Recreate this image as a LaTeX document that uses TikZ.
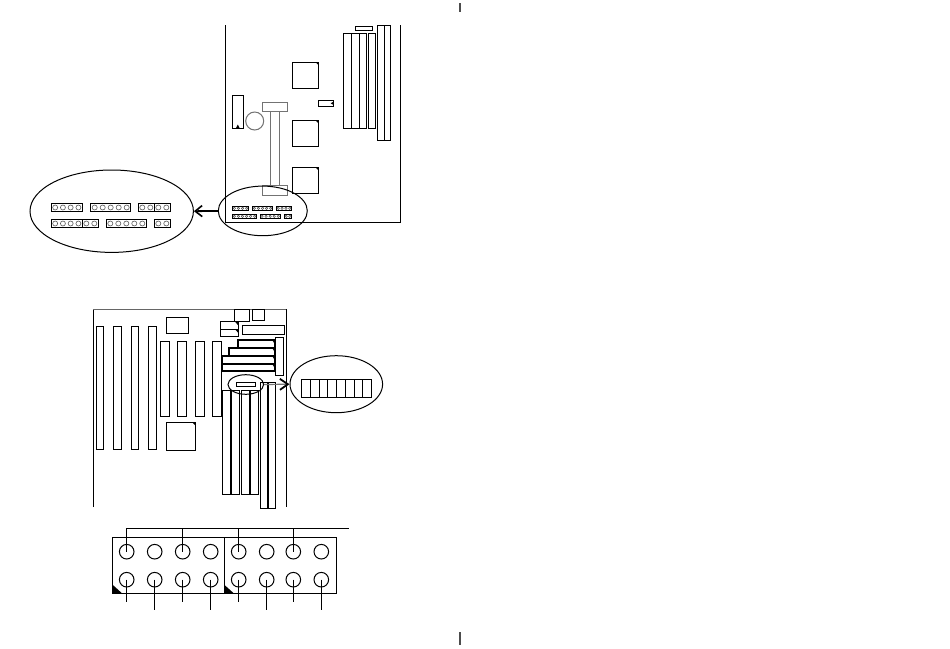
\documentclass[tikz,border=0pt]{standalone}
\usetikzlibrary{positioning, calc, arrows.meta, shapes.geometric}
\tikzset{part/.style={draw=black, line width=1pt}}
\tikzset{thickpart/.style={draw=black, line width=2.1pt}}
\tikzset{graypart/.style={draw=black!55, line width=1pt}}
\tikzset{lens/.style={draw=black, ellipse, line width=1pt, inner sep=0pt}}
\tikzset{hdrpin/.style={draw=black, circle, line width=1pt, inner sep=0pt, minimum size=14.6pt}}
\tikzset{wire/.style={draw=black, line width=1pt}}
\tikzset{grab/.style={line width=1.8pt, -{Straight Barb[length=7pt,width=11pt,line width=1.6pt]}}}
\begin{document}
\begin{tikzpicture}[x=1pt, y=-1pt]
  \useasboundingbox (0,0) rectangle (950,648);

  % page ticks
  \draw[line width=1.3pt, black!70] (460,3) -- (460,12);
  \draw[line width=1.3pt, black!70] (460,632) -- (460,645);

  % upper board
  \draw[part] (225.7,25) -- (225.7,222.3) -- (400,222.3) -- (400,25);
  \draw[part] (355.3,26.3) rectangle (372.7,30.3);
  \foreach \xa/\xb in {343.3/351.3, 351.3/359, 359/366.7, 368.3/375.7}
    \draw[part] (\xa,33.3) rectangle (\xb,128.3);
  \foreach \xa/\xb in {377.7/384, 384/390.3}
    \draw[part] (\xa,25.3) rectangle (\xb,140.3);
  \foreach \ya/\yb in {62/88.3, 120.3/146.3, 167.3/193.7} {
    \draw[part] (292.3,\ya) rectangle (318.3,\yb);
    \fill (318.3,\ya) -- ++(-3,0) -- ++(3,3) -- cycle;
  }
  \draw[part] (318.3,100.3) rectangle (333.7,106.3);
  \fill (333.7,101.5) -- ++(0,3.6) -- ++(-3,-1.8) -- cycle;
  \draw[part] (232.3,95.3) rectangle (243.3,128.7);
  \fill (237.8,124.5) -- ++(-2,4) -- ++(4,0) -- cycle;
  \draw[graypart] (254.7,121) circle (9);
  \draw[graypart] (262.7,102) rectangle (287.3,111.3);
  \draw[graypart] (262.7,185.3) rectangle (287.3,195);
  \draw[graypart] (270.3,111.3) -- (270.3,185.3);
  \draw[graypart] (279.7,111.3) -- (279.7,185.3);

  % small headers on the upper board
  \foreach \xa/\xb/\ya/\n in {232.3/248.7/206.3/4, 252.3/272.7/206.3/5, 276.3/291.7/206.3/4,
      232.3/256.7/214.3/6, 260/280.3/214.3/5, 284.3/291.7/214.3/2} {
    \draw[line width=0.9pt] (\xa,\ya) rectangle (\xb,\ya+4);
    \pgfmathsetmacro{\stp}{(\xb-\xa)/\n}
    \foreach \k in {1,...,\n}
      \draw[line width=0.5pt, black!70] ({\xa+(\k-0.5)*\stp},\ya+2) circle (1.2);
  }
  \node[lens, minimum width=89pt, minimum height=49.6pt] (lensA) at (262.8,210.9) {};

  % enlarged headers
  \node[lens, minimum width=163.4pt, minimum height=82.4pt] (zoomA) at (111.7,211.2) {};
  \foreach \xa/\xb/\ya/\n in {51.3/82.3/203.3/4, 90.7/130.7/203.3/5, 138.3/154.3/203.3/2, 154.3/170.3/203.3/2,
      51.3/82.3/219.3/4, 82.3/98.3/219.3/2, 106.3/146.3/219.3/5, 154.3/170.3/219.3/2} {
    \draw[part] (\xa,\ya) rectangle (\xb,\ya+8.4);
    \pgfmathsetmacro{\stp}{(\xb-\xa)/\n}
    \foreach \k in {1,...,\n}
      \draw[line width=0.6pt, black!65] ({\xa+(\k-0.5)*\stp},\ya+4.2) circle (2.5);
  }
  \draw[grab] (lensA.west) -- (zoomA.east);

  % lower board
  \draw[part] (93,507) -- (93,309);
  \draw[part, black!60] (93,309) -- (286,309);
  \draw[part] (286,309) -- (286,507);
  \foreach \xa/\xb in {96/103.7, 113.3/121.7, 131.3/138.7, 148.3/156.7}
    \draw[part] (\xa,326.3) rectangle (\xb,449.3);
  \foreach \xa/\xb in {160.3/169.3, 177.3/186.3, 195.3/204.3, 212.3/221.7}
    \draw[part] (\xa,341.3) rectangle (\xb,416.3);
  \draw[part] (166.3,317.3) rectangle (188.3,333.3);
  \draw[part] (166.3,422.3) rectangle (195.3,450.3);
  \fill (195.3,422.3) -- ++(-3,0) -- ++(3,3) -- cycle;

  % memory sockets
  \foreach \xa/\xb/\xc in {222.3/230.7/239.7, 241.3/250/258.7} {
    \draw[part] (\xa,390.3) rectangle (\xc,494.3);
    \draw[thickpart] (\xb,390.3) -- (\xb,494.3);
  }
  \draw[part] (260.3,382.3) rectangle (275.7,508);
  \draw[thickpart] (268,382.3) -- (268,508);

  % top right corner
  \draw[part] (234.3,309.3) rectangle (249.3,321.3);
  \draw[part] (252.3,309.3) rectangle (264.7,320);
  \draw[part] (220.3,321.3) rectangle (238.3,329);
  \draw[part] (220.3,329) rectangle (238.3,336.3);
  \fill (238.3,322) -- ++(0,3.5) -- ++(-3,-3.5) -- cycle;
  \fill (238.3,329.5) -- ++(0,3.5) -- ++(-3,-3.5) -- cycle;
  \draw[part] (242.3,325.3) rectangle (284.3,334.3);
  \draw[part] (275.3,337.3) rectangle (283.3,375.3);
  \foreach \xa/\ya/\yb in {238.3/340.3/347.7, 229.3/348.3/355.7, 222.3/356.3/363.7, 222.3/364.3/371.3} {
    \draw[thickpart] (\xa,\ya) rectangle (275.3,\yb);
    \fill (275.3,\ya) -- ++(0,4.5) -- ++(-3,-4.5) -- cycle;
  }
  \draw[part] (236.3,382) rectangle (255,386.7);
  \node[lens, minimum width=35.6pt, minimum height=19.6pt] (lensB) at (245.8,384.5) {};

  % switch block
  \node[lens, minimum width=92.6pt, minimum height=57pt] (zoomB) at (336.3,384.2) {};
  \draw[part] (301.7,379.3) rectangle (371.7,397.3);
  \foreach \k in {1,...,7}
    \draw[part] ({301.7+\k*8.75},379.3) -- ({301.7+\k*8.75},397.3);
  \draw[line width=1.2pt, black!55, -{Straight Barb[color=black,length=8pt,width=11pt,line width=1.8pt]}] (lensB.east) -- (zoomB.west);

  % jumper block
  \draw[part] (112.3,537.7) rectangle (224,593.7);
  \draw[part] (224,537.7) rectangle (336.3,593.7);
  \fill (112.3,584.5) -- (112.3,593.7) -- (122.5,593.7) -- cycle;
  \fill (224,584.5) -- (224,593.7) -- (234.2,593.7) -- cycle;
  \foreach \i/\px in {1/126.7, 2/154.7, 3/182.7, 4/210.7, 5/238.7, 6/266.7, 7/293.3, 8/321.3} {
    \node[hdrpin] (t\i) at (\px,551.7) {};
    \node[hdrpin] (b\i) at (\px,579.7) {};
  }
  \coordinate (busA) at (126.7,528.7);
  \coordinate (busB) at (349.3,528.7);
  \draw[wire] (t1.center) -- (busA) -- (busB);
  \foreach \i in {3,5,7}
    \draw[wire] (t\i.center |- busA) -- (t\i.center);
  \foreach \i/\yend in {1/602.3, 2/610.3, 3/602.3, 4/610.3, 5/602.3, 6/610.3, 7/602.3, 8/610.3} {
    \coordinate (e\i) at (b\i.center |- 0,\yend);
    \draw[wire] (b\i.center) -- (e\i);
  }
\end{tikzpicture}
\end{document}
